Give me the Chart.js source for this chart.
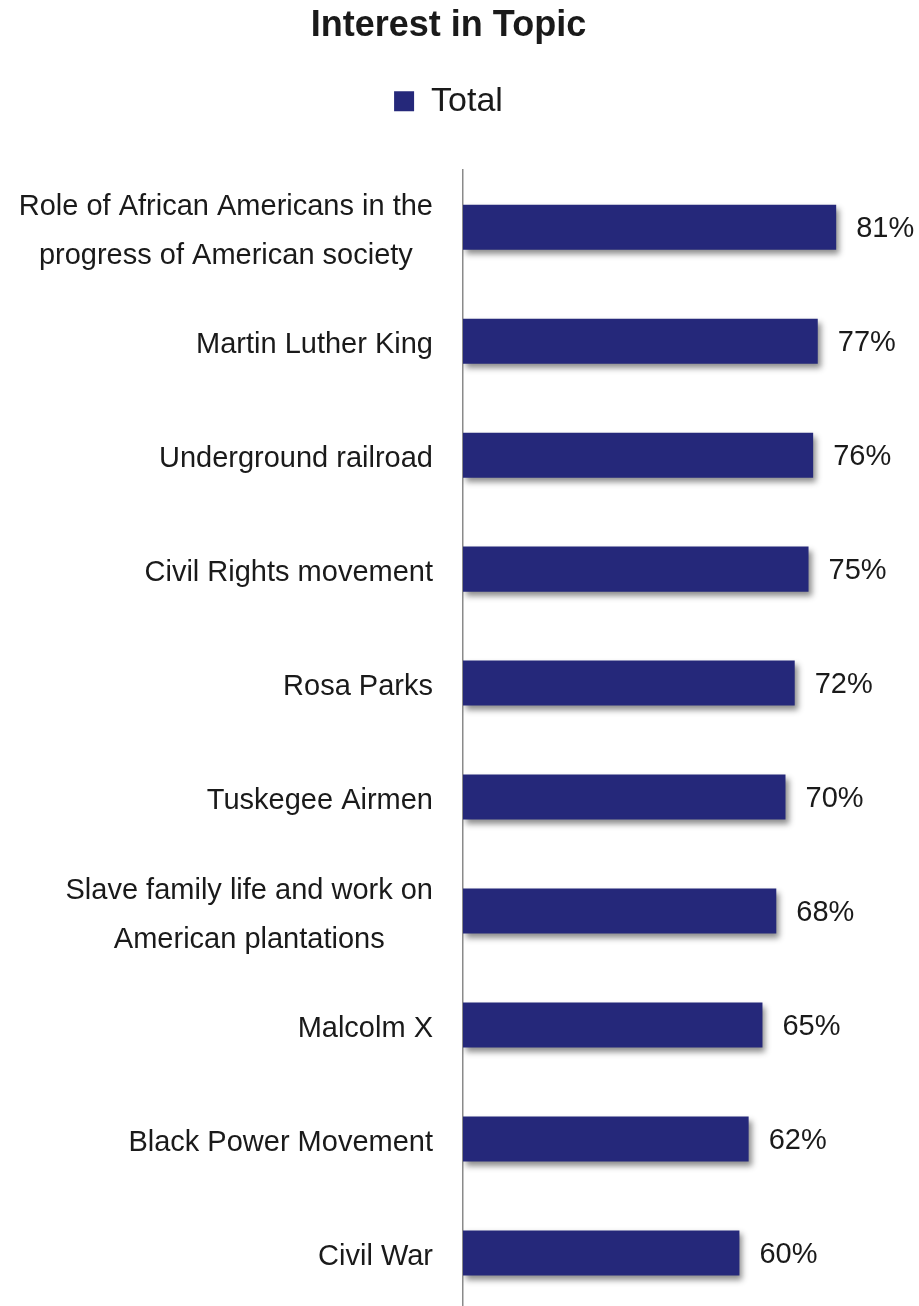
<!DOCTYPE html>
<html>
<head>
<meta charset="utf-8">
<script src="https://cdn.jsdelivr.net/npm/chart.js@4.4.1/dist/chart.umd.min.js"></script>
<style>
  html, body { margin: 0; padding: 0; background: #fff; overflow: hidden; }
  .chart-container { position: relative; width: 919px; height: 1310px; }
</style>
</head>
<body>
<div class="chart-container"><canvas id="interest-chart"></canvas></div>
<script>
const topics = [
    ['Role of African Americans in the', 'progress of American society'],
    'Martin Luther King',
    'Underground railroad',
    'Civil Rights movement',
    'Rosa Parks',
    'Tuskegee Airmen',
    ['Slave family life and work on', 'American plantations'],
    'Malcolm X',
    'Black Power Movement',
    'Civil War'
];
const totalValues = [81, 77, 76, 75, 72, 70, 68, 65, 62, 60];

const barColor = '#25287A';
const textColor = '#1a1a1a';
const fontFamily = '"Liberation Sans", Arial, sans-serif';

// category labels: lines centred on each other, block right-aligned to the axis
const categoryLabels = {
    id: 'categoryLabels',
    afterDraw(chart) {
        const ctx = chart.ctx;
        const yScale = chart.scales.y;
        const right = chart.chartArea.left - 30;
        const lineHeight = 49;
        ctx.save();
        ctx.font = '29px ' + fontFamily;
        ctx.fillStyle = textColor;
        ctx.textBaseline = 'middle';
        ctx.textAlign = 'center';
        topics.forEach((label, i) => {
            const lines = Array.isArray(label) ? label : [label];
            const maxW = Math.max(...lines.map(l => ctx.measureText(l).width));
            const cx = right - maxW / 2;
            const cy = yScale.getPixelForValue(i) + 4;
            const startY = cy - (lines.length - 1) * lineHeight / 2;
            lines.forEach((line, j) => ctx.fillText(line, cx, startY + j * lineHeight));
        });
        ctx.restore();
    }
};

// value labels at the end of each bar
const valueLabels = {
    id: 'valueLabels',
    afterDatasetsDraw(chart) {
        const ctx = chart.ctx;
        const meta = chart.getDatasetMeta(0);
        ctx.save();
        ctx.font = '29px ' + fontFamily;
        ctx.fillStyle = textColor;
        ctx.textBaseline = 'middle';
        ctx.textAlign = 'left';
        meta.data.forEach((bar, i) => {
            ctx.fillText(totalValues[i] + '%', bar.x + 20, bar.y + 2);
        });
        ctx.restore();
    }
};

const barShadow = {
    id: 'barShadow',
    beforeDatasetDraw(chart) {
        const ctx = chart.ctx;
        ctx.save();
        ctx.shadowColor = 'rgba(0,0,0,0.45)';
        ctx.shadowBlur = 6;
        ctx.shadowOffsetX = 3;
        ctx.shadowOffsetY = 4;
    },
    afterDatasetDraw(chart) {
        chart.ctx.restore();
    }
};

// extra room between legend and plot
const legendGap = {
    id: 'legendGap',
    beforeInit(chart) {
        const fit = chart.legend.fit;
        chart.legend.fit = function () {
            fit.bind(chart.legend)();
            this.height += 42;
        };
    }
};

const ctx = document.getElementById('interest-chart').getContext('2d');
new Chart(ctx, {
    type: 'bar',
    data: {
        labels: topics,
        datasets: [{
            label: 'Total',
            data: totalValues,
            backgroundColor: barColor,
            borderWidth: 0,
            categoryPercentage: 1,
            barPercentage: 0.395
        }]
    },
    plugins: [legendGap, barShadow, valueLabels, categoryLabels],
    options: {
        indexAxis: 'y',
        responsive: true,
        maintainAspectRatio: false,
        animation: false,
        layout: { padding: { left: 0, right: 22, top: 0, bottom: 0 } },
        scales: {
            x: { display: false, min: 0, max: 94.2 },
            y: {
                grid: { display: false, drawTicks: false },
                border: { display: true, color: '#8a8a8a', width: 1.5 },
                ticks: { display: false },
                afterFit(scale) { scale.width = 463; }
            }
        },
        plugins: {
            title: {
                display: true,
                text: 'Interest in Topic',
                color: textColor,
                font: { family: fontFamily, size: 36, weight: 'bold' },
                padding: { top: 4, bottom: 27 }
            },
            legend: {
                position: 'top',
                labels: {
                    color: textColor,
                    font: { family: fontFamily, size: 34 },
                    boxWidth: 20,
                    boxHeight: 20,
                    padding: 10
                }
            },
            tooltip: { enabled: false }
        }
    }
});
</script>
</body>
</html>
